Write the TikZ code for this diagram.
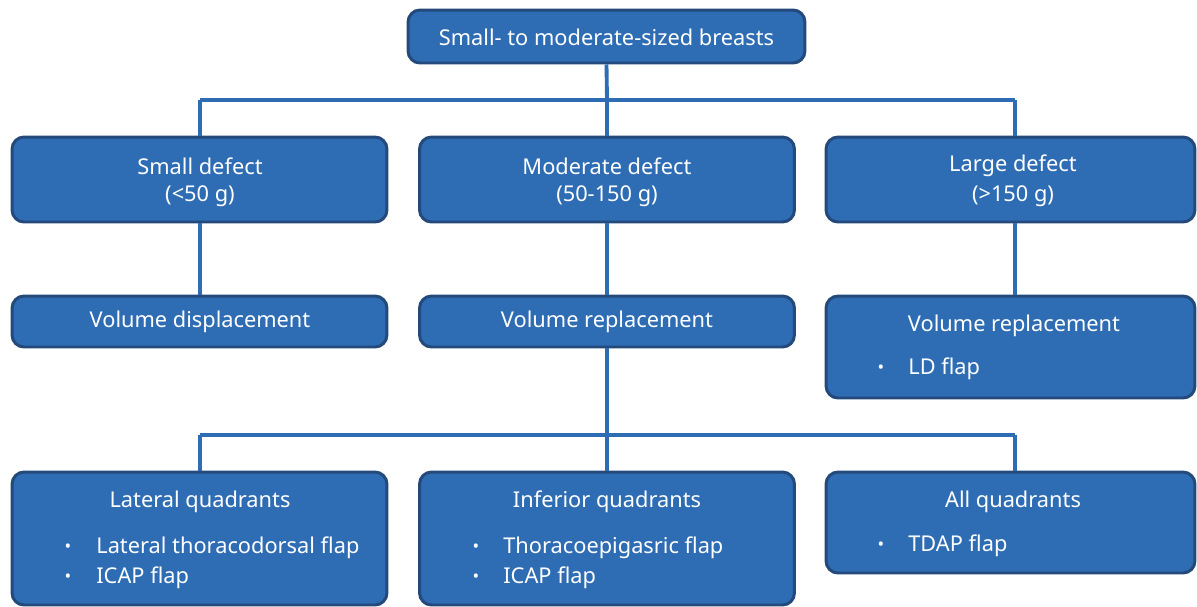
\documentclass[tikz,border=0pt]{standalone}
\usepackage{fontspec}
\setmainfont{Noto Sans}
\definecolor{boxfill}{HTML}{2E6DB4}
\definecolor{boxline}{HTML}{244A7C}
\definecolor{linkcol}{HTML}{2E6DB4}
\tikzset{
  box/.style={draw=boxline, fill=boxfill, rounded corners=0.24cm, line width=1.7pt, inner sep=0pt},
  lbl/.style={text=white, font=\fontsize{12.4pt}{14pt}\selectfont, inner sep=0pt},
  item/.style={lbl, anchor=west},
  dot/.style={text=white, font=\fontsize{10pt}{11pt}\selectfont, inner sep=0pt},
  link/.style={draw=linkcol, line width=2.2pt}
}
\begin{document}
\begin{tikzpicture}[x=0.02cm, y=-0.02cm]
  \useasboundingbox (0,0) rectangle (1197,606);

  % Boxes
  \node[box, minimum width=7.94cm, minimum height=1.06cm] (breasts) at (606.5,36.5) {};
  \node[box, minimum width=7.5cm, minimum height=1.7cm] (small) at (199.5,179.5) {};
  \node[box, minimum width=7.5cm, minimum height=1.7cm] (moderate) at (607,179.5) {};
  \node[box, minimum width=7.38cm, minimum height=1.7cm] (large) at (1010.5,179.5) {};
  \node[box, minimum width=7.5cm, minimum height=1.02cm] (displace) at (199.5,321.5) {};
  \node[box, minimum width=7.5cm, minimum height=1.02cm] (replace) at (607,321.5) {};
  \node[box, minimum width=7.38cm, minimum height=2.04cm] (replaceLD) at (1010.5,347) {};
  \node[box, minimum width=7.5cm, minimum height=2.66cm] (lateral) at (199.5,538.5) {};
  \node[box, minimum width=7.5cm, minimum height=2.66cm] (inferior) at (607,538.5) {};
  \node[box, minimum width=7.38cm, minimum height=2.02cm] (allq) at (1010.5,522.5) {};

  % Junctions
  \coordinate (jtop) at (607,100);
  \coordinate (jtopL) at (200,100);
  \coordinate (jtopR) at (1015,100);
  \coordinate (jlow) at (607,435);
  \coordinate (jlowL) at (200,435);
  \coordinate (jlowR) at (1015,435);

  % Connectors
  \draw[link] (breasts.south) -- (jtop);
  \draw[link] (jtopL) -- (jtopR);
  \draw[link] (jtopL) -- (jtopL |- small.north);
  \draw[link] (jtop) -- (jtop |- moderate.north);
  \draw[link] (jtopR) -- (jtopR |- large.north);
  \draw[link] (small.south -| jtopL) -- (jtopL |- displace.north);
  \draw[link] (moderate.south -| jtop) -- (jtop |- replace.north);
  \draw[link] (large.south -| jtopR) -- (jtopR |- replaceLD.north);
  \draw[link] (replace.south -| jlow) -- (jlow);
  \draw[link] (jlowL) -- (jlowR);
  \draw[link] (jlowL) -- (jlowL |- lateral.north);
  \draw[link] (jlow) -- (jlow |- inferior.north);
  \draw[link] (jlowR) -- (jlowR |- allq.north);

  % Texts
  \node[lbl] (tbreasts) at (606.5,37) {Small- to moderate-sized breasts};
  \node[lbl] (tsmall1) at (200,166) {Small defect};
  \node[lbl] (tsmall2) at (200,196) {(<50 g)};
  \node[lbl] (tmod1) at (607,166) {Moderate defect};
  \node[lbl] (tmod2) at (607,196) {(50-150 g)};
  \node[lbl] (tlarge1) at (1013,166) {Large defect};
  \node[lbl] (tlarge2) at (1013,196) {(>150 g)};
  \node[lbl] (tdisp) at (200,322) {Volume displacement};
  \node[lbl] (trep) at (607,322) {Volume replacement};
  \node[lbl] (trepLD) at (1014,326) {Volume replacement};
  \node[dot] at (881,369) {•};
  \node[item] at (908,369) {LD flap};

  \node[lbl] (tlat) at (200,502) {Lateral quadrants};
  \node[dot] at (68,548) {•};
  \node[item] at (96,548) {Lateral thoracodorsal flap};
  \node[dot] at (68,578) {•};
  \node[item] at (96,578) {ICAP flap};

  \node[lbl] (tinf) at (607,502) {Inferior quadrants};
  \node[dot] at (476,548) {•};
  \node[item] at (503,548) {Thoracoepigasric flap};
  \node[dot] at (476,578) {•};
  \node[item] at (503,578) {ICAP flap};

  \node[lbl] (tall) at (1013,502) {All quadrants};
  \node[dot] at (881,546) {•};
  \node[item] at (908,546) {TDAP flap};
\end{tikzpicture}
\end{document}
